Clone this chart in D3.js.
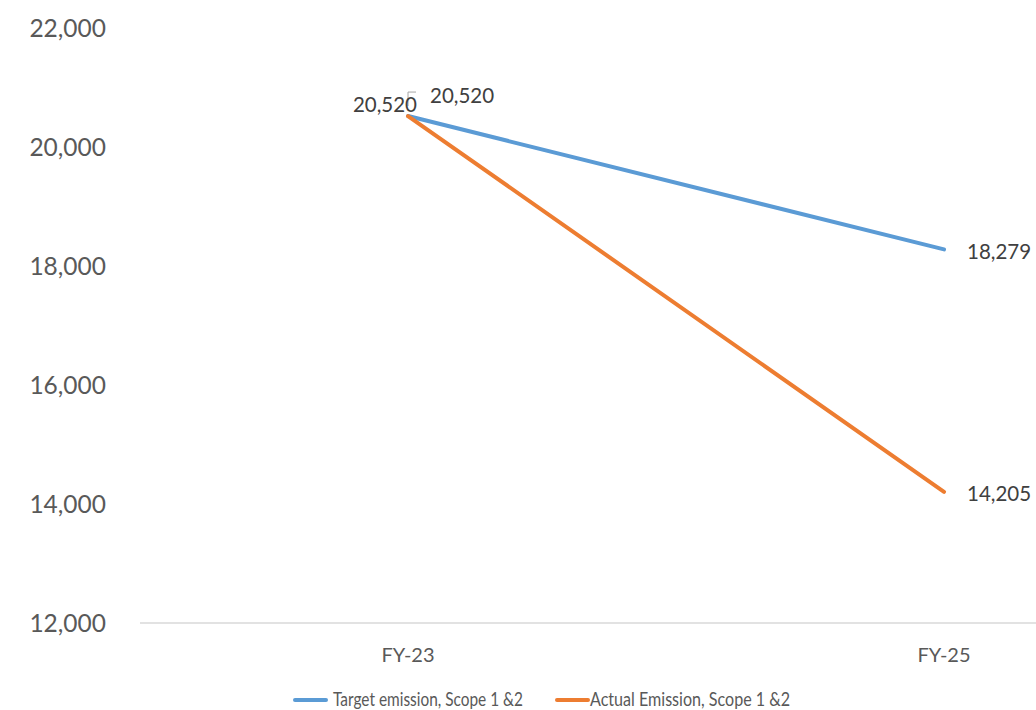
<!DOCTYPE html>
<html><head><meta charset="utf-8">
<script src="https://cdn.jsdelivr.net/npm/d3@7"></script>
<style>
html,body{margin:0;padding:0;background:#fff;overflow:hidden;}
text{font-family:"Lato","Open Sans",sans-serif;}
</style></head>
<body>
<svg id="c" width="1036" height="710"></svg>
<script>
const categories = ["FY-23", "FY-25"];
const targetValues = [20520, 18279];
const actualValues = [20520, 14205];
const seriesNames = ["Target emission, Scope 1 &2", "Actual Emission, Scope 1 &2"];
const yTicks = [12000, 14000, 16000, 18000, 20000, 22000];

const svg = d3.select("#c");
const plot = {left: 140, right: 1212, top: 28, bottom: 623};

const x = d3.scaleBand().domain(categories).range([plot.left, plot.right]).padding(0);
const cx = c => x(c) + x.bandwidth() / 2;
const y = d3.scaleLinear().domain([12000, 22000]).range([plot.bottom, plot.top]);

const fmt = d3.format(",");
svg.append("g").selectAll("text").data(yTicks).join("text")
  .attr("x", 106).attr("y", d => y(d)).attr("dy", "0.35em")
  .attr("text-anchor", "end").attr("fill", "#595959").attr("font-size", 24.5)
  .text(d => fmt(d));

svg.append("line").attr("x1", plot.left).attr("x2", plot.right)
  .attr("y1", y(12000)).attr("y2", y(12000))
  .attr("stroke", "#d9d9d9").attr("stroke-width", 1.3);

svg.append("g").selectAll("text").data(categories).join("text")
  .attr("x", d => cx(d)).attr("y", y(12000) + 32).attr("dy", "0.35em")
  .attr("text-anchor", "middle").attr("fill", "#595959").attr("font-size", 20)
  .text(d => d);

const series = [
  {name: seriesNames[0], values: targetValues, color: "#5B9BD5"},
  {name: seriesNames[1], values: actualValues, color: "#ED7D31"}
];

const line = d3.line().x((d, i) => cx(categories[i])).y(d => y(d));
series.forEach(s => {
  svg.append("path").datum(s.values).attr("d", line)
    .attr("fill", "none").attr("stroke", s.color).attr("stroke-width", 4)
    .attr("stroke-linecap", "round");
});

const lblSize = 20.5, lblCol = "#404040";
const t0x = cx(categories[0]), t0y = y(targetValues[0]);
svg.append("text").attr("x", t0x + 22).attr("y", t0y - 20).attr("dy", "0.35em")
  .attr("fill", lblCol).attr("font-size", lblSize).text(fmt(targetValues[0]));
svg.append("path")
  .attr("d", `M${t0x},${t0y - 10}V${t0y - 24}H${t0x + 8}`)
  .attr("fill", "none").attr("stroke", "#a6a6a6").attr("stroke-width", 1);
svg.append("text").attr("x", t0x + 9).attr("y", t0y - 11).attr("dy", "0.35em")
  .attr("text-anchor", "end").attr("fill", lblCol).attr("font-size", lblSize)
  .text(fmt(actualValues[0]));
series.forEach(s => {
  svg.append("text").attr("x", cx(categories[1]) + 23).attr("y", y(s.values[1]) + 2).attr("dy", "0.35em")
    .attr("fill", lblCol).attr("font-size", lblSize).text(fmt(s.values[1]));
});

// legend
const leg = [{x: 295, tx: 333, w: 190}, {x: 557, tx: 590, w: 200}];
series.forEach((s, i) => {
  svg.append("line").attr("x1", leg[i].x).attr("x2", leg[i].x + 31)
    .attr("y1", 700).attr("y2", 700).attr("stroke", s.color).attr("stroke-width", 4)
    .attr("stroke-linecap", "round");
  svg.append("text").attr("x", leg[i].tx).attr("y", 699).attr("dy", "0.35em")
    .attr("fill", "#595959").attr("font-size", 19.5)
    .attr("textLength", leg[i].w).attr("lengthAdjust", "spacingAndGlyphs")
    .text(s.name);
});
</script>
</body></html>
